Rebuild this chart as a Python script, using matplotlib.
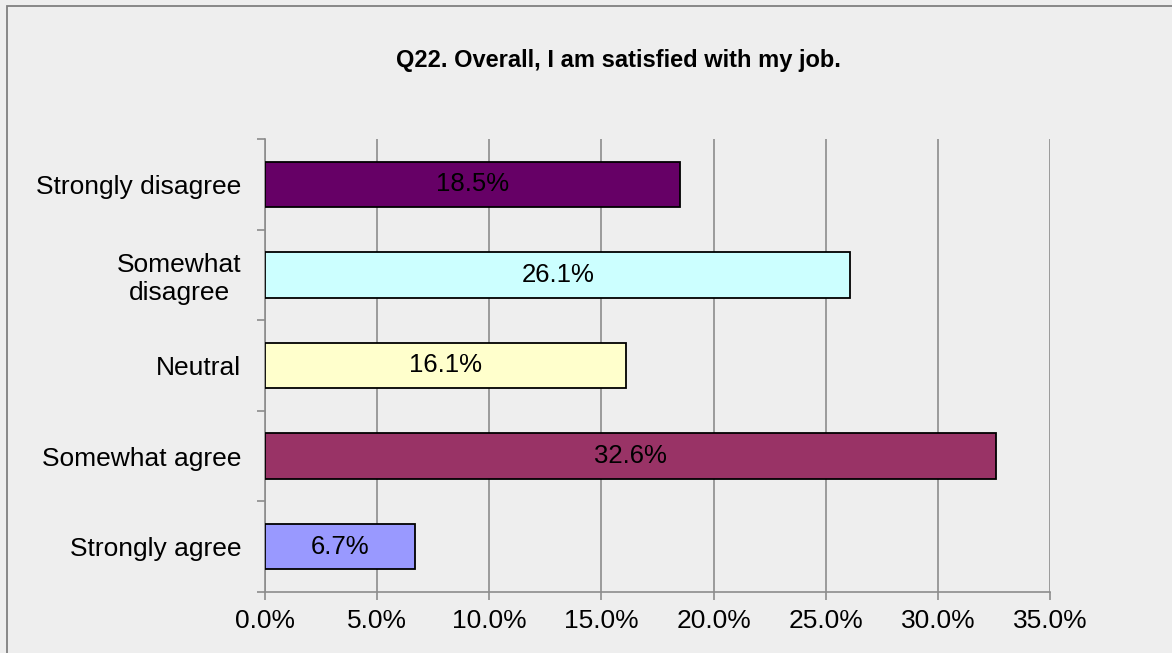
import numpy as np
import matplotlib

matplotlib.use("Agg")
import matplotlib.pyplot as plt
from matplotlib.patches import Rectangle
from matplotlib.ticker import FixedLocator, PercentFormatter

# data
categories = ["Strongly disagree", "Somewhat\ndisagree", "Neutral", "Somewhat agree", "Strongly agree"]
values = [18.5, 26.1, 16.1, 32.6, 6.7]
colors = ["#660066", "#CCFFFF", "#FFFFCC", "#993366", "#9999FF"]
x_ticks = [0, 5, 10, 15, 20, 25, 30, 35]
title = "Q22. Overall, I am satisfied with my job."

plt.rcParams["font.family"] = ["Liberation Sans", "DejaVu Sans"]
BG = "#EEEEEE"
GRID = "#8C8C8C"
FS = 19

W, H = 1172, 653
fig = plt.figure(figsize=(W / 100, H / 100), dpi=100, facecolor=BG)
ax = fig.add_axes([265 / W, 1 - 592 / H, (1050 - 265) / W, (592 - 139) / H])
ax.set_facecolor(BG)

y = np.arange(len(categories))
bars = ax.barh(y, values, height=0.5, color=colors, edgecolor="black", linewidth=1.3, zorder=3)
for b, v in zip(bars, values):
    ax.text(b.get_width() / 2, b.get_y() + b.get_height() / 2, f"{v:.1f}%",
            ha="center", va="center", fontsize=18.5, color="black", zorder=4)

ax.set_xlim(0, 35)
ax.set_ylim(-0.5, len(categories) - 0.5)
ax.invert_yaxis()

ax.xaxis.set_major_locator(FixedLocator(x_ticks))
ax.xaxis.set_major_formatter(PercentFormatter(decimals=1))
ax.grid(axis="x", color=GRID, linewidth=1.2, zorder=0)
ax.tick_params(axis="x", length=6, width=1.2, color=GRID, pad=6, labelsize=FS)

ax.set_yticks(y)
ax.set_yticklabels(categories, multialignment="center")
ax.yaxis.set_minor_locator(FixedLocator(np.arange(-0.5, len(categories), 1.0)))
ax.tick_params(axis="y", which="major", length=0, pad=17, labelsize=FS)
ax.tick_params(axis="y", which="minor", length=6, width=1.2, color=GRID)

for s in ["top", "right"]:
    ax.spines[s].set_visible(False)
for s in ["left", "bottom"]:
    ax.spines[s].set_color(GRID)
    ax.spines[s].set_linewidth(1.2)

fig.text(618 / W, 1 - 60 / H, title, ha="center", va="center",
         fontsize=17, fontweight="bold")

# chart border (cropped at right and bottom in the reference)
fig.patches.append(Rectangle((6.5 / W, -0.1), 2, 1.1 - 6.5 / H, transform=fig.transFigure,
                             fill=False, edgecolor="#808080", linewidth=1.3))

fig.savefig("out.png", dpi=100, facecolor=BG)
